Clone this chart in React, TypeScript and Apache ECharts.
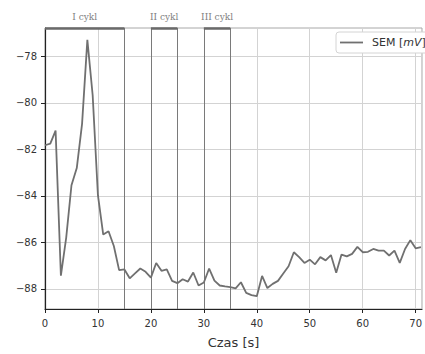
import React, { useEffect, useRef } from "react";
import * as echarts from "echarts";

const times: number[] = Array.from({ length: 72 }, (_, i) => i);
const semValues: number[] = [
  -81.82, -81.75, -81.19, -87.43, -85.8, -83.54, -82.8, -80.9, -77.29, -79.66,
  -83.98, -85.66, -85.52, -86.15, -87.19, -87.16, -87.54, -87.33, -87.12, -87.26,
  -87.51, -86.88, -87.22, -87.16, -87.65, -87.75, -87.58, -87.68, -87.29, -87.85,
  -87.72, -87.12, -87.64, -87.85, -87.89, -87.92, -87.97, -87.71, -88.17, -88.26,
  -88.31, -87.44, -87.96, -87.78, -87.65, -87.33, -87.02, -86.42, -86.63, -86.88,
  -86.74, -86.94, -86.63, -86.77, -86.54, -87.3, -86.52, -86.6, -86.49, -86.19,
  -86.42, -86.4, -86.28, -86.35, -86.35, -86.56, -86.35, -86.88, -86.28, -85.9,
  -86.25, -86.2,
];
const cycleNames: string[] = ["I cykl", "II cykl", "III cykl"];
const cycleStarts: number[] = [0, 20, 30];
const cycleEnds: number[] = [15, 25, 35];
const cycleLines: number[] = [15, 20, 25, 30, 35];
const xTicks: number[] = [0, 10, 20, 30, 40, 50, 60, 70];
const yTicks: number[] = [-88, -86, -84, -82, -80, -78];

const X_MIN = 0;
const X_MAX = 71.2;
const Y_MIN = -88.86;
const Y_MAX = -76.78;

const fmt = (v: number) => (v < 0 ? "\u2212" + Math.abs(v) : String(v));

export default function App() {
  const ref = useRef<HTMLDivElement>(null);
  useEffect(() => {
    if (!ref.current) return;
    const chart = echarts.init(ref.current, null, { renderer: "svg" });
    const font = "DejaVu Sans";
    chart.setOption({
      animation: false,
      backgroundColor: "#ffffff",
      grid: {
        left: 45,
        top: 28,
        right: -2,
        bottom: 37,
        show: true,
        borderColor: "#a8a8a8",
        borderWidth: 1,
      },
      legend: {
        show: true,
        left: 336,
        top: 32,
        padding: [5, 12, 5, 4],
        backgroundColor: "#ffffff",
        borderColor: "#d4d4d4",
        borderWidth: 1,
        borderRadius: 3,
        itemWidth: 23,
        itemHeight: 10,
        formatter: () => "SEM [{i|mV}]",
        textStyle: {
          fontFamily: font,
          fontSize: 11,
          color: "#333",
          padding: [0, 0, 0, 4],
          rich: { i: { fontStyle: "italic", fontFamily: font, fontSize: 11, color: "#333" } },
        },
        data: [{ name: "SEM", icon: "path://M0,0 L23,0 L23,1.8 L0,1.8 Z" }],
      },
      xAxis: {
        type: "value",
        min: X_MIN,
        max: X_MAX,
        name: "Czas [s]",
        nameLocation: "middle",
        nameGap: 27,
        nameTextStyle: { fontFamily: font, fontSize: 13, color: "#333", verticalAlign: "top" },
        axisLine: { show: true, lineStyle: { color: "#222", width: 1.2 } },
        axisTick: { show: true, length: 4, lineStyle: { color: "#222" }, customValues: xTicks },
        axisLabel: {
          fontFamily: font,
          fontSize: 10,
          color: "#333",
          margin: 9,
          customValues: xTicks,
          formatter: (v: number) => fmt(v),
        },
        splitLine: { show: true, lineStyle: { color: "#d3d3d3", width: 1 } },
      },
      yAxis: {
        type: "value",
        min: Y_MIN,
        max: Y_MAX,
        axisLine: { show: true, lineStyle: { color: "#222", width: 1.2 } },
        axisTick: { show: true, length: 4, lineStyle: { color: "#222" }, customValues: yTicks },
        axisLabel: {
          fontFamily: font,
          fontSize: 10,
          color: "#333",
          margin: 8,
          customValues: yTicks,
          formatter: (v: number) => fmt(v),
        },
        splitLine: { show: true, lineStyle: { color: "#d3d3d3", width: 1 } },
      },
      series: [
        {
          name: "SEM",
          type: "line",
          data: times.map((t, i) => [t, semValues[i]]),
          symbol: "none",
          lineStyle: { color: "#707070", width: 1.8 },
          itemStyle: { color: "#707070" },
          z: 5,
          markLine: {
            silent: true,
            symbol: "none",
            label: { show: false },
            animation: false,
            data: [
              ...cycleLines.map((x) => ({
                xAxis: x,
                lineStyle: { color: "#7a7a7a", width: 1, type: "solid" },
              })),
              ...cycleStarts.map((s, i) => [
                { coord: [s, Y_MAX], lineStyle: { color: "#6a6a6a", width: 2.5, type: "solid" } },
                { coord: [cycleEnds[i], Y_MAX] },
              ]),
            ],
          },
          markArea: {
            silent: true,
            itemStyle: { color: "rgba(0,0,0,0)" },
            label: {
              show: true,
              position: "top",
              distance: 7,
              fontFamily: "DejaVu Serif",
              fontSize: 9,
              color: "#808080",
            },
            data: cycleStarts.map((s, i) => [
              { name: cycleNames[i], coord: [s, Y_MAX] },
              { coord: [cycleEnds[i], Y_MAX - 0.01] },
            ]),
          },
        },
      ],
    });
    return () => chart.dispose();
  }, []);
  return (
    <div
      ref={ref}
      style={{ position: "fixed", left: 0, top: 0, width: 425, height: 354 }}
    />
  );
}
